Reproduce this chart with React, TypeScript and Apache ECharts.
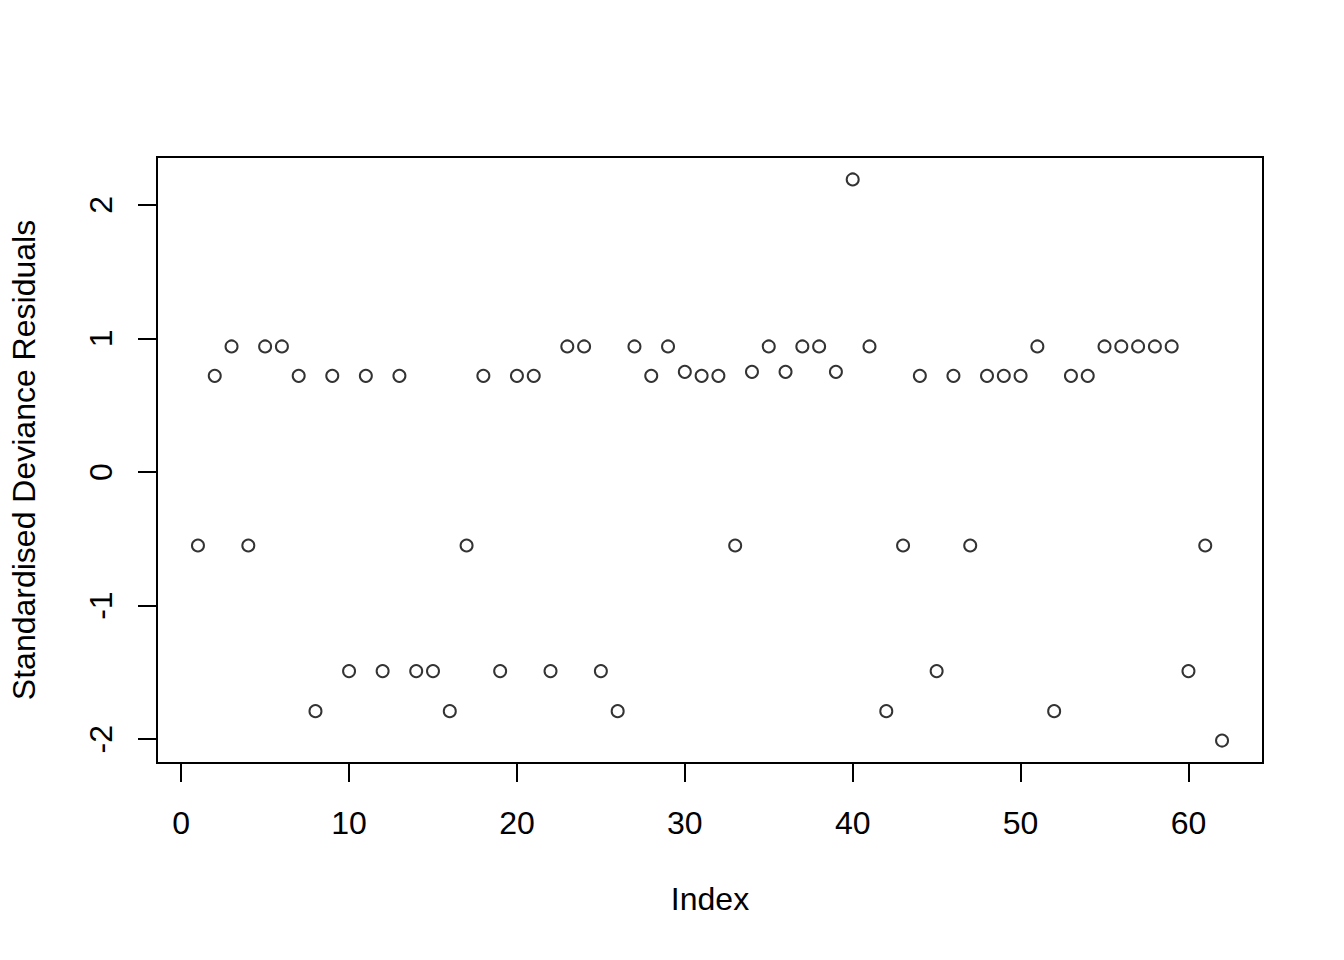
import React, { useEffect, useRef } from "react";
import * as echarts from "echarts";

// Standardised deviance residuals, in index order 1..62
const residuals: number[] = [
  -0.55, 0.72, 0.94, -0.55, 0.94, 0.94, 0.72, -1.79, 0.72, -1.49,
  0.72, -1.49, 0.72, -1.49, -1.49, -1.79, -0.55, 0.72, -1.49, 0.72,
  0.72, -1.49, 0.94, 0.94, -1.49, -1.79, 0.94, 0.72, 0.94, 0.75,
  0.72, 0.72, -0.55, 0.75, 0.94, 0.75, 0.94, 0.94, 0.75, 2.19,
  0.94, -1.79, -0.55, 0.72, -1.49, 0.72, -0.55, 0.72, 0.72, 0.72,
  0.94, -1.79, 0.72, 0.72, 0.94, 0.94, 0.94, 0.94, 0.94, -1.49,
  -0.55, -2.01,
];
const xTickValues: number[] = [0, 10, 20, 30, 40, 50, 60];
const yTickValues: number[] = [-2, -1, 0, 1, 2];
const xTitle = "Index";
const yTitle = "Standardised Deviance Residuals";

const FONT = "'Liberation Sans', Arial, sans-serif";

export default function App() {
  const ref = useRef<HTMLDivElement>(null);
  useEffect(() => {
    if (!ref.current) return;
    const chart = echarts.init(ref.current, undefined, { renderer: "svg" });

    const n = residuals.length;
    const xr = n - 1;
    const XMIN = 1 - 0.04 * xr;
    const XMAX = n + 0.04 * xr;
    const ymin = Math.min(...residuals);
    const ymax = Math.max(...residuals);
    const yr = ymax - ymin;
    const YMIN = ymin - 0.04 * yr;
    const YMAX = ymax + 0.04 * yr;

    // plot box in pixels
    const L = 157, R = 1263, T = 157, B = 763;
    const px = (v: number) => L + ((v - XMIN) / (XMAX - XMIN)) * (R - L);
    const py = (v: number) => T + ((YMAX - v) / (YMAX - YMIN)) * (B - T);

    const xt0 = xTickValues[0], xt1 = xTickValues[xTickValues.length - 1];
    const yt0 = yTickValues[0], yt1 = yTickValues[yTickValues.length - 1];

    const data = residuals.map((v, i) => [i + 1, v]);

    chart.setOption({
      animation: false,
      backgroundColor: "#ffffff",
      grid: [
        {
          left: L, top: T, width: R - L, height: B - T,
          show: true, borderColor: "#000", borderWidth: 2, backgroundColor: "transparent",
        },
        {
          left: px(xt0), right: 1344 - px(xt1), top: py(yt1), bottom: 960 - py(yt0),
          show: false,
        },
      ],
      xAxis: [
        { gridIndex: 0, type: "value", min: XMIN, max: XMAX, show: false },
        {
          gridIndex: 1, type: "value", min: xt0, max: xt1, interval: 10,
          position: "bottom", offset: B - py(yt0),
          axisLine: { show: false, onZero: false },
          axisTick: { show: true, length: 19, lineStyle: { color: "#000", width: 2 } },
          axisLabel: { color: "#000", fontSize: 32, fontFamily: FONT, margin: 44 },
          splitLine: { show: false },
        },
      ],
      yAxis: [
        { gridIndex: 0, type: "value", min: YMIN, max: YMAX, show: false },
        {
          gridIndex: 1, type: "value", min: yt0, max: yt1, interval: 1,
          position: "left", offset: px(xt0) - L,
          axisLine: { show: false, onZero: false },
          axisTick: { show: true, length: 19, lineStyle: { color: "#000", width: 2 } },
          axisLabel: { color: "#000", fontSize: 32, fontFamily: FONT, margin: 40, rotate: 90 },
          splitLine: { show: false },
        },
      ],
      series: [
        {
          type: "scatter",
          xAxisIndex: 0,
          yAxisIndex: 0,
          data,
          symbol: "circle",
          symbolSize: 12,
          itemStyle: { color: "transparent", borderColor: "#000", borderWidth: 2 },
          emphasis: { disabled: true },
        },
      ],
      graphic: [
        {
          type: "text",
          x: (L + R) / 2,
          y: 899,
          style: { text: xTitle, fontSize: 32, fontFamily: FONT, fill: "#000", align: "center", verticalAlign: "middle" },
        },
        {
          type: "text",
          x: 24,
          y: (T + B) / 2,
          rotation: Math.PI / 2,
          style: { text: yTitle, fontSize: 32, fontFamily: FONT, fill: "#000", align: "center", verticalAlign: "middle" },
        },
      ],
    });
    return () => chart.dispose();
  }, []);
  return (
    <div
      ref={ref}
      style={{ position: "fixed", left: 0, top: 0, width: 1344, height: 960 }}
    />
  );
}
